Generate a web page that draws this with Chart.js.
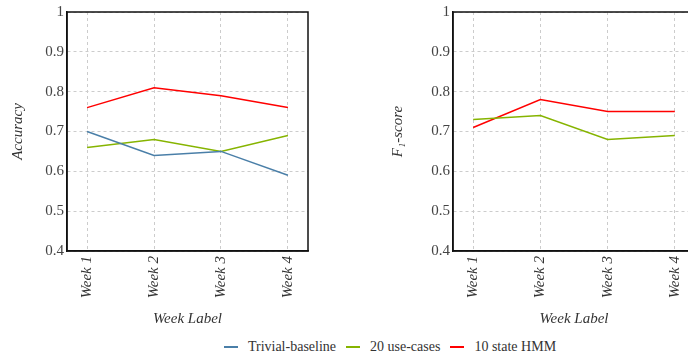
<!DOCTYPE html>
<html>
<head>
<meta charset="utf-8">
<script src="https://cdn.jsdelivr.net/npm/chart.js@4"></script>
<style>
  html, body { margin: 0; padding: 0; background: #fff; overflow: hidden; }
  body { width: 688px; height: 360px; position: relative; }
  #left { position: absolute; left: 0; top: 0; }
  #right { position: absolute; left: 380px; top: 0; }
  #legend { position: absolute; left: 0; top: 339px; width: 780px; display: flex; justify-content: center;
            font: 14px "Liberation Serif", serif; color: #333; }
  #legend span.item { display: flex; align-items: center; margin: 0 5px; }
  #legend span.mark { display: inline-block; width: 14px; height: 2px; margin-right: 10px; }
</style>
</head>
<body>
<canvas id="left" width="320" height="330"></canvas>
<canvas id="right" width="330" height="330"></canvas>
<div id="legend"></div>
<script>
// données
const weeks = ['Week 1', 'Week 2', 'Week 3', 'Week 4'];
const seriesNames = ['Trivial-baseline', '20 use-cases', '10 state HMM'];
const seriesColors = ['#4a7fa8', '#86b400', '#ff0000'];
const accBaseline = [0.70, 0.64, 0.65, 0.59];
const accUseCases = [0.66, 0.68, 0.65, 0.69];
const accHmm = [0.76, 0.81, 0.79, 0.76];
const f1UseCases = [0.73, 0.74, 0.68, 0.69];
const f1Hmm = [0.71, 0.78, 0.75, 0.75];
const yTicks = [0.4, 0.5, 0.6, 0.7, 0.8, 0.9, 1];

const serif = '"Liberation Serif", serif';

const frame = {
    id: 'frame',
    afterDraw(chart) {
        const a = chart.chartArea, c = chart.ctx;
        c.save();
        c.strokeStyle = '#111';
        c.lineWidth = 1.5;
        c.strokeRect(a.left, a.top, a.right - a.left, a.bottom - a.top);
        c.restore();
    }
};

function series(values, idx) {
    return {
        label: seriesNames[idx],
        data: values.map((v, i) => ({ x: i, y: v })),
        borderColor: seriesColors[idx],
        borderWidth: 1.5,
        pointRadius: 0,
        fill: false
    };
}

function makeChart(id, datasets, yTitle, yWidth, padLeft, padRight) {
    return new Chart(document.getElementById(id), {
        type: 'line',
        data: { datasets: datasets },
        options: {
            responsive: false,
            animation: false,
            layout: { padding: { left: padLeft, right: padRight, top: 10, bottom: 0 } },
            plugins: { legend: { display: false }, tooltip: { enabled: false } },
            scales: {
                x: {
                    type: 'linear',
                    min: -0.3,
                    max: 3.3,
                    afterBuildTicks: s => { s.ticks = weeks.map((w, i) => ({ value: i })); },
                    afterFit: s => { s.height = 79; },
                    ticks: {
                        callback: v => weeks[v],
                        minRotation: 90, maxRotation: 90,
                        font: { family: serif, size: 15, style: 'italic' },
                        color: '#333', padding: 5
                    },
                    grid: { color: '#cccccc', drawTicks: false },
                    border: { display: true, color: '#111', width: 1.5, dash: [3, 3] },
                    title: {
                        display: true, text: 'Week Label',
                        font: { family: serif, size: 15, style: 'italic' },
                        color: '#333', padding: { top: 0, bottom: 2 }
                    }
                },
                y: {
                    min: 0.4,
                    max: 1,
                    afterBuildTicks: s => { s.ticks = yTicks.map(v => ({ value: v })); },
                    afterFit: s => { s.width = yWidth; },
                    ticks: {
                        callback: v => String(Math.round(v * 10) / 10),
                        font: { family: serif, size: 15 },
                        color: '#444', padding: 3
                    },
                    grid: { color: '#cccccc', drawTicks: false },
                    border: { display: true, color: '#111', width: 1.5, dash: [3, 3] },
                    title: {
                        display: true, text: yTitle,
                        font: { family: serif, size: 15, style: 'italic' },
                        color: '#333', padding: { top: 0, bottom: 8 }
                    }
                }
            }
        },
        plugins: [frame]
    });
}

makeChart('left', [series(accBaseline, 0), series(accUseCases, 1), series(accHmm, 2)], 'Accuracy', 58, 9, 12);
makeChart('right', [series(f1UseCases, 1), series(f1Hmm, 2)], 'F\u2081-score', 64, 9, 15);

const legend = document.getElementById('legend');
seriesNames.forEach((name, i) => {
    const item = document.createElement('span');
    item.className = 'item';
    const mark = document.createElement('span');
    mark.className = 'mark';
    mark.style.backgroundColor = seriesColors[i];
    item.appendChild(mark);
    item.appendChild(document.createTextNode(name));
    legend.appendChild(item);
});
</script>
</body>
</html>
